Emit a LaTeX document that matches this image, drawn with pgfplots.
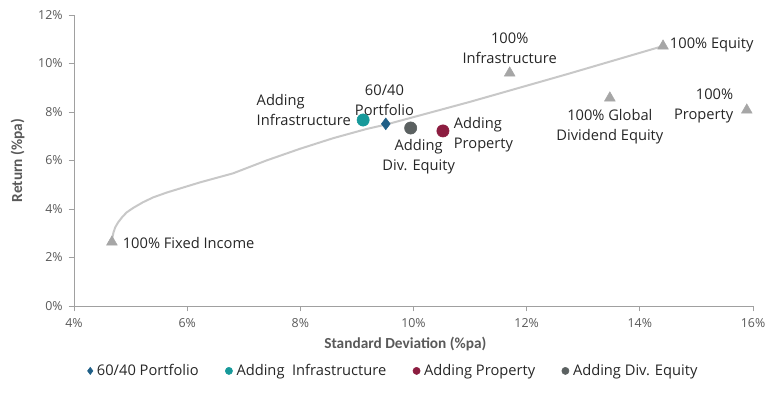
\documentclass[border=0pt]{standalone}
\usepackage{pgfplots}
\pgfplotsset{compat=1.18}
\usepackage{fontspec}
\setmainfont{Open Sans}
\newfontfamily\lblfont{Open Sans}
\newfontfamily\titlefont{Carlito}
\definecolor{cteal}{RGB}{23,153,154}
\definecolor{cblue}{RGB}{31,95,135}
\definecolor{cmaroon}{RGB}{140,29,64}
\definecolor{cdgray}{RGB}{91,97,97}
\definecolor{ctri}{RGB}{166,166,166}
\definecolor{cline}{RGB}{200,200,200}
\definecolor{caxis}{RGB}{160,160,160}
\definecolor{ctext}{RGB}{89,89,89}
\definecolor{clabel}{RGB}{38,38,38}
\pgfplotsset{mylegend/.style={legend image code/.code={\draw[##1,mark size=2.7pt] plot coordinates {(0cm,0cm)};}}}
\begin{document}
\begin{tikzpicture}
\path[use as bounding box] (-55.5pt,-65.25pt) rectangle (527.25pt,229.5pt);
\begin{axis}[
  scale only axis,
  width=509.25pt, height=218.25pt,
  xmin=4, xmax=16, ymin=0, ymax=12,
  xtick={4,6,...,16}, ytick={0,2,...,12},
  xticklabel={\pgfmathprintnumber{\tick}\%},
  yticklabel={\pgfmathprintnumber{\tick}\%},
  /pgf/number format/assume math mode=true,
  axis lines*=left,
  axis line style={caxis, line width=0.6pt},
  every tick/.style={caxis, line width=0.6pt},
  tick align=outside, major tick length=4pt,
  tick label style={font=\fontsize{9.3}{11}\selectfont, text=ctext},
  xticklabel style={yshift=-2pt},
  yticklabel style={xshift=-1pt},
  xlabel={Standard Deviation (\%pa)},
  ylabel={Return (\%pa)},
  label style={font=\titlefont\bfseries\fontsize{11.5}{13}\selectfont, text=ctext},
  xlabel style={at={(axis description cs:0.488,-0.131)}, anchor=center},
  ylabel style={at={(axis description cs:-0.083,0.5)}, anchor=center},
  clip=false,
  legend columns=4,
  legend style={draw=none, fill=none, at={(0.471,-0.223)}, anchor=center,
    font=\lblfont\fontsize{11}{13}\selectfont, text=clabel,
    /tikz/every odd column/.append style={column sep=1pt},
    /tikz/every even column/.append style={column sep=18pt}},
]
% efficient frontier
\addplot[cline, line width=1.5pt, forget plot] coordinates {
(4.67,2.64) (4.68,2.85) (4.70,3.05) (4.73,3.25) (4.78,3.45) (4.85,3.66)
(4.93,3.86) (5.05,4.05) (5.22,4.28) (5.40,4.48) (5.64,4.68) (6.23,5.10)
(6.81,5.47) (7.40,6.00) (7.99,6.48) (8.58,6.92) (9.17,7.30) (9.51,7.48)
(11.00,8.42) (12.70,9.55) (14.41,10.72)};
% asset classes
\addplot[only marks, mark=triangle*, mark size=4.6pt, color=ctri, forget plot] coordinates {
(4.67,2.64) (14.41,10.72) (11.70,9.61) (13.47,8.58) (15.89,8.08)};
% portfolios
\addplot[only marks, mark=diamond*, mark size=4.4pt, color=cblue, mylegend] coordinates {(9.51,7.51)};
\addlegendentry{60/40 Portfolio}
\addplot[only marks, mark=*, mark size=4.6pt, color=cteal, mylegend] coordinates {(9.11,7.67)};
\addlegendentry{Adding\ \ Infrastructure}
\addplot[only marks, mark=*, mark size=4.6pt, color=cmaroon, mylegend] coordinates {(10.52,7.22)};
\addlegendentry{Adding Property}
\addplot[only marks, mark=*, mark size=4.6pt, color=cdgray, mylegend] coordinates {(9.95,7.34)};
\addlegendentry{Adding Div. Equity}
% labels
\begin{scope}[every node/.style={font=\lblfont\fontsize{11}{15}\selectfont, text=clabel, inner sep=0pt}]
\node[anchor=west] at (axis cs:4.67,2.64) [xshift=8pt,yshift=-0.5pt] {100\% Fixed Income};
\node[anchor=west] at (axis cs:14.41,10.72) [xshift=5pt,yshift=1pt] {100\% Equity};
\node[anchor=south, align=center] at (axis cs:11.70,9.61) [yshift=7pt] {100\%\\Infrastructure};
\node[anchor=north, align=center] at (axis cs:13.47,8.58) [yshift=-8pt] {100\% Global\\Dividend Equity};
\node[anchor=east, align=right] at (axis cs:15.89,8.08) [xshift=-10pt,yshift=3pt] {100\%\\Property};
\node[anchor=south, align=center] at (axis cs:9.51,7.51) [xshift=-1pt,yshift=6pt] {60/40\\Portfolio};
\node[anchor=east, align=left] at (axis cs:9.11,7.67) [xshift=-9pt,yshift=7.5pt] {Adding\\Infrastructure};
\node[anchor=north, align=center] at (axis cs:9.95,7.34) [xshift=6pt,yshift=-8pt] {Adding\\Div. Equity};
\node[anchor=west, align=left] at (axis cs:10.52,7.22) [xshift=8pt,yshift=-3pt] {Adding\\Property};
\end{scope}
\end{axis}
\end{tikzpicture}
\end{document}
